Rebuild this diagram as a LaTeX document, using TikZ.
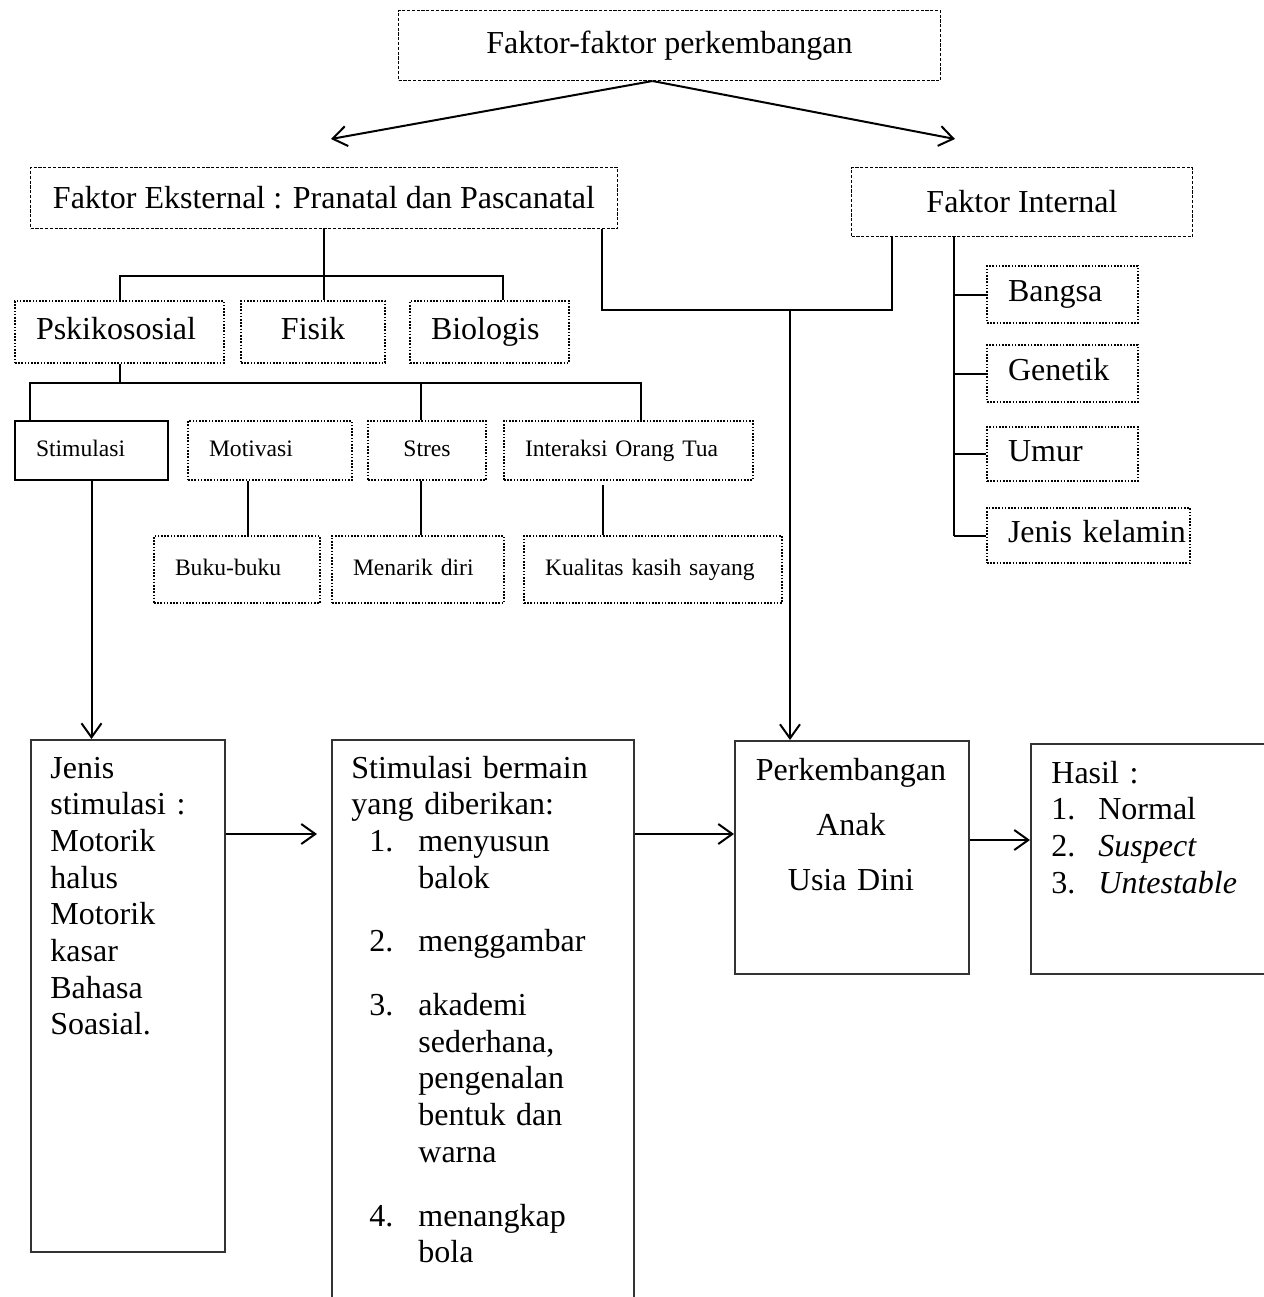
\documentclass[tikz,border=0pt]{standalone}
\usepackage{fontspec}
\setmainfont{Liberation Serif}
\usetikzlibrary{arrows.meta}

\newcommand{\bigtxt}{\fontsize{16}{18.35}\selectfont}
\newcommand{\smalltxt}{\fontsize{11.8}{14}\selectfont}
\newcommand{\numitem}[1]{\hspace*{9pt}\makebox[24.5pt][l]{#1}}
\newcommand{\hangitem}{\hspace*{33.5pt}}

\tikzset{
  dashbox/.style={draw, line width=0.5pt, dash pattern=on 1.6pt off 0.8pt, inner sep=0pt, anchor=north west},
  dotbox/.style={draw, line width=1pt, dash pattern=on 0.8pt off 0.8pt, inner ysep=0pt, inner xsep=10.5pt, align=left, anchor=north west, execute at begin node=\strut},
  solidbox/.style={draw, black!80, line width=0.8pt, inner sep=0pt, anchor=north west},
  boxtext/.style={inner sep=0pt, anchor=base west, align=left},
  link/.style={line width=1pt},
  arr/.style={line width=1pt, -{Straight Barb[length=7pt,width=10pt]}},
}

\begin{document}
\begin{tikzpicture}[x=0.5pt, y=-0.5pt, font=\bigtxt]
\useasboundingbox (0,0) rectangle (1264,1297);
\clip (0,0) rectangle (1264,1297);

% Top level
\node[dashbox, minimum width=271pt, minimum height=35pt] (faktor) at (398,10) {Faktor-faktor perkembangan};
\node[dashbox, minimum width=293.5pt, minimum height=30.5pt] (eksternal) at (30,167) {Faktor Eksternal : Pranatal dan Pascanatal};
\node[dashbox, minimum width=170.5pt, minimum height=34.5pt] (internal) at (851,167) {Faktor Internal};

% Faktor eksternal
\node[dotbox, text width=83.5pt, minimum height=31pt] (psiko) at (14,300) {Pskikososial};
\node[dotbox, text width=51pt, align=center, minimum height=31pt] (fisik) at (240,300) {Fisik};
\node[dotbox, text width=58.5pt, minimum height=31pt] (bio) at (409,300) {Biologis};

% Pskikososial
\node[draw, line width=1pt, inner ysep=0pt, inner xsep=10.5pt, align=left, anchor=north west, font=\smalltxt, text width=55.5pt, minimum height=29.5pt, execute at begin node=\strut] (stim) at (14,420) {Stimulasi};
\node[dotbox, font=\smalltxt, text width=61pt, minimum height=29.5pt] (motiv) at (187,420) {Motivasi};
\node[dotbox, font=\smalltxt, text width=38pt, align=center, minimum height=29.5pt] (stres) at (367,420) {Stres};
\node[dotbox, font=\smalltxt, text width=103.5pt, minimum height=29.5pt] (inter) at (503,420) {Interaksi Orang Tua};
\node[dotbox, font=\smalltxt, text width=62pt, minimum height=33.5pt] (buku) at (153,535) {Buku-buku};
\node[dotbox, font=\smalltxt, text width=65pt, minimum height=33.5pt] (menarik) at (331,535) {Menarik diri};
\node[dotbox, font=\smalltxt, text width=108pt, minimum height=33.5pt] (kualitas) at (523,535) {Kualitas kasih sayang};

% Faktor internal
\node[dotbox, text width=54.5pt, minimum height=28.5pt] (bangsa) at (986,265) {Bangsa};
\node[dotbox, text width=54.5pt, minimum height=28.5pt] (genetik) at (986,344) {Genetik};
\node[dotbox, text width=54.5pt, minimum height=27pt] (umur) at (986,426) {Umur};
\node[dotbox, text width=80.5pt, minimum height=27.5pt] (jk) at (986,507) {\mbox{Jenis kelamin}};

% Bottom row
\node[solidbox, minimum width=97pt, minimum height=256pt] (jenis) at (30,739) {};
\node[boxtext, text width=80pt] (jenistxt) at (50,778) {Jenis\\ stimulasi :\\ Motorik\\ halus\\ Motorik\\ kasar\\ Bahasa\\ Soasial.};
\node[solidbox, minimum width=151pt, minimum height=290.5pt] (main) at (331,739) {};
\node[boxtext, text width=135pt] (maintxt) at (351,778) {Stimulasi bermain\\ yang diberikan:\\
  \numitem{1.}menyusun\\ \hangitem balok\\[13.5pt]
  \numitem{2.}menggambar\\[13.5pt]
  \numitem{3.}akademi\\ \hangitem sederhana,\\ \hangitem pengenalan\\ \hangitem bentuk dan\\ \hangitem warna\\[13.5pt]
  \numitem{4.}menangkap\\ \hangitem bola};
\node[solidbox, minimum width=117pt, minimum height=116.5pt] (kembang) at (734,740) {};
\node[inner sep=0pt, anchor=base, align=center, text width=117pt, font=\fontsize{16}{27.5}\selectfont] (kembangtxt) at (851,780) {Perkembangan\\ Anak\\ Usia Dini};
\node[solidbox, minimum width=145pt, minimum height=115pt] (hasil) at (1030,743) {};
\node[boxtext, text width=100pt] (hasiltxt) at (1051,783) {Hasil :\\ \makebox[23.5pt][l]{1.}Normal\\ \makebox[23.5pt][l]{2.}\textit{Suspect}\\ \makebox[23.5pt][l]{3.}\textit{Untestable}};

% Connectors top
\coordinate (tipL) at (331,139);
\coordinate (tipR) at (955,139);
\draw[arr] ([xshift=-8.5pt]faktor.south) -- (tipL);
\draw[arr] ([xshift=-8.5pt]faktor.south) -- (tipR);

% Eksternal tree
\coordinate (busA) at (0,276);
\coordinate (busB) at (0,383);
\draw[link] (eksternal.south) -- (eksternal.south |- fisik.north);
\draw[link] (psiko.north) -- (psiko.north |- busA) -- ([xshift=6.5pt]bio.north |- busA) -- ([xshift=6.5pt]bio.north);
\draw[link] (psiko.south) -- (psiko.south |- busB);
\draw[link] ([xshift=8pt]stim.north west) -- ([xshift=8pt]stim.north west |- busB) -- ([xshift=6.25pt]inter.north |- busB) -- ([xshift=6.25pt]inter.north);
\draw[link] ([xshift=-3pt]stres.north) -- ([xshift=-3pt]stres.north |- busB);
\draw[link] ([xshift=-11pt]motiv.south) -- ([xshift=-11pt]motiv.south |- buku.north);
\draw[link] ([xshift=-3pt]stres.south) -- ([xshift=-3pt]stres.south |- menarik.north);
\draw[link] ([xshift=-12.75pt,yshift=-2pt]inter.south) -- ([xshift=-12.75pt]inter.south |- kualitas.north);
\draw[arr] (stim.south) -- (stim.south |- jenis.north);

% Eksternal + internal to perkembangan
\coordinate (busC) at (0,310);
\draw[link] ([xshift=-8pt]eksternal.south east) -- ([xshift=-8pt]eksternal.south east |- busC) -- ([xshift=20.5pt]internal.south west |- busC) -- ([xshift=20.5pt]internal.south west);
\draw[arr] ([xshift=28pt]kembang.north west |- busC) -- ([xshift=28pt]kembang.north west);

% Internal tree
\coordinate (spine) at ([xshift=51.5pt]internal.south west);
\draw[link] (spine) -- (spine |- jk.west);
\foreach \n in {bangsa, genetik, umur, jk}
  \draw[link] (spine |- \n.west) -- (\n.west);

% Bottom row arrows
\coordinate (rowA) at (0,834);
\coordinate (rowB) at (0,840);
\draw[arr] (jenis.east |- rowA) -- ([xshift=-7pt]main.west |- rowA);
\draw[arr] (main.east |- rowA) -- (kembang.west |- rowA);
\draw[arr] (kembang.east |- rowB) -- (hasil.west |- rowB);

\end{tikzpicture}
\end{document}
